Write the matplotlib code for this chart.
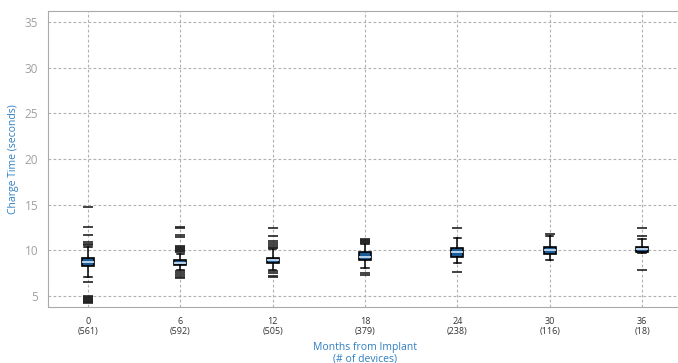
import numpy as np
import matplotlib.pyplot as plt

plt.rcParams['font.family'] = ['Open Sans', 'DejaVu Sans']

# months from implant and number of devices
months = ["0", "6", "12", "18", "24", "30", "36"]
devices = [561, 592, 505, 379, 238, 116, 18]

# box statistics (seconds)
q1 = [8.25, 8.4, 8.6, 8.9, 9.3, 9.6, 9.8]
med = [8.7, 8.65, 8.9, 9.3, 9.8, 10.0, 10.1]
q3 = [9.2, 8.9, 9.2, 9.8, 10.3, 10.4, 10.4]
whislo = [7.05, 7.8, 7.9, 8.1, 8.6, 8.9, 9.7]
whishi = [10.4, 9.6, 10.1, 10.65, 11.4, 11.6, 11.2]
fliers = [
    [14.8, 12.6, 11.7, 10.6, 10.7, 10.9, 6.5, 5.0, 4.9, 4.8, 4.7, 4.6, 4.5, 4.4, 4.3, 4.2],
    [12.6, 12.4, 11.7, 11.5, 10.5, 10.4, 10.3, 10.2, 10.0, 9.9, 9.8, 7.7, 7.5, 7.3, 7.1, 7.0],
    [12.4, 11.6, 11.0, 10.8, 10.6, 10.4, 10.3, 7.7, 7.5, 7.2, 7.1],
    [11.2, 11.1, 11.0, 10.9, 10.8, 7.5, 7.3],
    [12.4, 7.6],
    [11.8],
    [12.4, 11.6, 7.8],
]

stats = []
for i in range(len(months)):
    stats.append(dict(med=med[i], q1=q1[i], q3=q3[i], whislo=whislo[i],
                      whishi=whishi[i], fliers=fliers[i]))

fig = plt.figure(figsize=(6.78, 3.63), dpi=100)
ax = fig.add_axes([48/678, 56/363, 634/678, 296/363])

pos = np.arange(len(months))
ax.bxp(stats, positions=pos, widths=0.13, patch_artist=True, zorder=3,
       boxprops=dict(facecolor="#1a5c99", edgecolor="black", linewidth=1.2),
       medianprops=dict(color="#d8e8f6", linewidth=1.2),
       whiskerprops=dict(color="black", linewidth=1.1),
       capprops=dict(color="black", linewidth=1.1),
       capwidths=0.08,
       flierprops=dict(marker="_", markersize=7, markeredgecolor="#222222", markeredgewidth=1.2))

ax.set_xlim(-0.433, 6.433)
ax.set_ylim(3.8, 36.2)
ax.set_yticks([5, 10, 15, 20, 25, 30, 35])
ax.set_xticks(pos)
ax.set_xticklabels(["%s\n(%d)" % (m, d) for m, d in zip(months, devices)], fontsize=6.5, color="#333333")
for lab in ax.get_yticklabels():
    lab.set_fontsize(8.5)
    lab.set_color("#a0a0a0")
ax.tick_params(length=0, pad=7)
ax.grid(True, linestyle="--", color="#b0b0b0", linewidth=0.8, dashes=(2.5, 2))
ax.set_axisbelow(True)
for s in ["left", "bottom", "top"]:
    ax.spines[s].set_color("#aaaaaa")
ax.spines["right"].set_visible(False)

ax.set_ylabel("Charge Time (seconds)", color="#2e7fc1", fontsize=7.5, labelpad=4)
ax.set_xlabel("Months from Implant\n(# of devices)", color="#2e7fc1", fontsize=7.5, labelpad=4, linespacing=1.1)

fig.savefig("out.png", dpi=100)
